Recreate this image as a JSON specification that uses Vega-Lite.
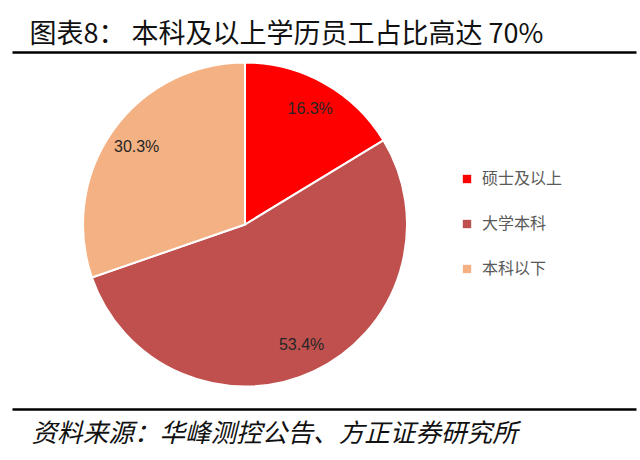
{
  "$schema": "https://vega.github.io/schema/vega-lite/v6.json",
  "width": 624,
  "height": 357,
  "autosize": {"type": "none"},
  "padding": {"left": 12, "top": 52, "right": 4, "bottom": 51},
  "background": "white",
  "config": {
    "view": {"stroke": null},
    "font": "Noto Sans CJK SC"
  },
  "data": {
    "values": [
      {"类别": "硕士及以上", "占比": 0.163, "序": 1},
      {"类别": "大学本科", "占比": 0.534, "序": 2},
      {"类别": "本科以下", "占比": 0.303, "序": 3}
    ]
  },
  "encoding": {
    "theta": {"field": "占比", "type": "quantitative", "stack": true},
    "order": {"field": "序", "type": "quantitative"},
    "y": {
      "datum": 0.5168,
      "type": "quantitative",
      "scale": {"domain": [0, 1]},
      "axis": null
    }
  },
  "layer": [
    {
      "mark": {"type": "arc", "outerRadius": 162, "stroke": "white", "strokeWidth": 2},
      "encoding": {
        "x": {
          "datum": 0.3734,
          "type": "quantitative",
          "scale": {"domain": [0, 1]},
          "axis": {
            "orient": "bottom",
            "title": "资料来源：华峰测控公告、方正证券研究所",
            "titleFont": "Noto Sans CJK SC",
            "titleFontSize": 25.6,
            "titleFontWeight": "normal",
            "titleFontStyle": "italic",
            "titleColor": "#111",
            "titleAnchor": "start",
            "titleAlign": "left",
            "titleX": 19,
            "titlePadding": 12,
            "domainColor": "#000",
            "domainWidth": 2.5,
            "ticks": false,
            "labels": false,
            "grid": false
          }
        },
        "color": {
          "field": "类别",
          "type": "nominal",
          "sort": ["硕士及以上", "大学本科", "本科以下"],
          "scale": {
            "domain": ["硕士及以上", "大学本科", "本科以下"],
            "range": ["#FF0000", "#C0504D", "#F4B183"]
          },
          "legend": {
            "orient": "none",
            "legendX": 447,
            "legendY": 119,
            "title": null,
            "symbolType": "square",
            "symbolSize": 70,
            "symbolStrokeWidth": 0,
            "labelFont": "Noto Sans CJK SC",
            "labelFontSize": 16,
            "labelColor": "#595959",
            "labelOffset": 7,
            "rowPadding": 29
          }
        }
      }
    },
    {
      "mark": {"type": "text", "radius": 133, "font": "Liberation Sans", "fontSize": 16, "color": "#262626"},
      "encoding": {
        "x": {
          "datum": 0.3734,
          "type": "quantitative",
          "scale": {"domain": [0, 1]},
          "axis": {
            "orient": "top",
            "title": "图表8：   本科及以上学历员工占比高达 70%",
            "titleFont": "Noto Sans CJK SC",
            "titleFontSize": 27,
            "titleFontWeight": "normal",
            "titleColor": "#111",
            "titleAnchor": "start",
            "titleAlign": "left",
            "titleX": 17,
            "titlePadding": 4,
            "domainColor": "#000",
            "domainWidth": 2.5,
            "ticks": false,
            "labels": false,
            "grid": false
          }
        },
        "text": {"field": "占比", "type": "quantitative", "format": ".1%"}
      }
    }
  ],
  "resolve": {"scale": {"x": "independent"}, "axis": {"x": "independent"}}
}
